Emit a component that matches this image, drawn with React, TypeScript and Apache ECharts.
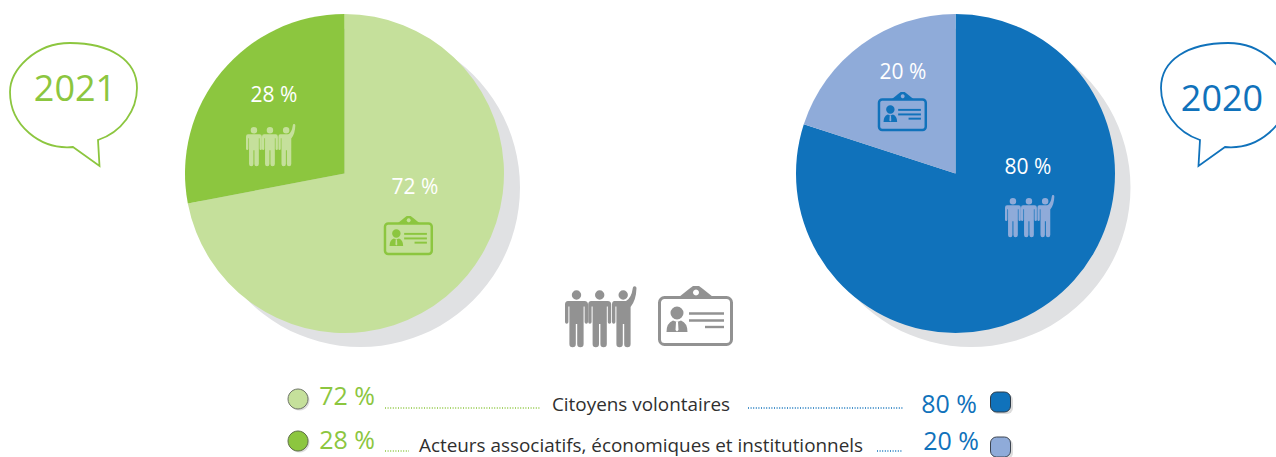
import React, { useEffect, useRef } from "react";
import * as echarts from "echarts";

const sliceNames = ["Citoyens volontaires", "Acteurs associatifs, économiques et institutionnels"];
const values2021 = [72, 28];
const values2020 = [80, 20];
const years = ["2021", "2020"];
const FONT = '"Open Sans", "Noto Sans", sans-serif';

const GREEN = "#8cc63f";
const LIGHT_GREEN = "#c5e09b";
const BLUE = "#1072bb";
const LIGHT_BLUE = "#8fabd9";
const GREY = "#929292";
const SHADOW = "#e0e1e3";
const DARK = "#2f2f2f";

const person = (x: number) =>
  `M${x + 3} 15H${x + 19.5}Q${x + 23} 15 ${x + 23} 18.5V36A1.7 1.7 0 0 1 ${x + 19.6} 36V20.5H${x + 18.6}V58A2.8 2.8 0 0 1 ${x + 12.2} 58V38H${x + 10.8}V58A2.8 2.8 0 0 1 ${x + 4.4} 58V20.5H${x + 3.4}V36A1.7 1.7 0 0 1 ${x + 0} 36V18.5Q${x + 0} 15 ${x + 3} 15Z` +
  `M${x + 16.2} 9A4.7 4.7 0 1 1 ${x + 6.8} 9A4.7 4.7 0 1 1 ${x + 16.2} 9Z`;
const PEOPLE_D =
  person(0) + person(23.2) +
  `M49.5 15H61Q66.5 12 67.8 2A1.8 1.8 0 0 1 71.5 2Q71.2 14 65.6 21V58A2.8 2.8 0 0 1 59.2 58V38H57.8V58A2.8 2.8 0 0 1 51.4 58V20.5H50.4V36A1.7 1.7 0 0 1 47 36V18.5Q47 15 49.5 15Z` +
  `M62.9 9A4.7 4.7 0 1 1 53.5 9A4.7 4.7 0 1 1 62.9 9Z`;
const BUST_D =
  "M25.5 27A6.5 6.5 0 1 1 12.5 27A6.5 6.5 0 1 1 25.5 27ZM8.5 46Q8.5 37 15 34.5L19 36L23 34.5Q29.5 37 29.5 46Z";
const BUBBLE_D =
  "M73 147L99.5 166L98 140C122 132 137 110 137 88C137 60 110 43 70 43C35 43 10 70 10 92C10 125 40 150 73 147Z";

echarts.graphic.registerShape("people", echarts.graphic.extendPath(PEOPLE_D, {}));
echarts.graphic.registerShape("bust", echarts.graphic.extendPath(BUST_D, {}));
echarts.graphic.registerShape("bubble", echarts.graphic.extendPath(BUBBLE_D, {}));

const people = (x: number, y: number, s: number, fill: string) => ({
  type: "people", x, y, scaleX: s, scaleY: s, style: { fill }, silent: true,
});

const card = (x: number, y: number, s: number, color: string, bg: string, frame = 3, rule = 2.4) => ({
  type: "group", x, y, scaleX: s, scaleY: s, silent: true,
  children: [
    { type: "polygon", shape: { points: [[21, 11], [31, 3], [35, 0], [41, 0], [45, 3], [55, 11]] }, style: { fill: color } },
    { type: "circle", z: 11, shape: { cx: 38, cy: 6.5, r: 3 }, style: { fill: bg } },
    { type: "rect", shape: { x: 1.5, y: 11.5, width: 72, height: 47, r: 5 }, style: { fill: "none", stroke: color, lineWidth: frame } },
    { type: "bust", style: { fill: color } },
    { type: "polygon", z: 11, shape: { points: [[18, 36], [20, 36], [20.5, 44], [19, 45.5], [17.5, 44]] }, style: { fill: bg } },
    { type: "line", shape: { x1: 31, y1: 27.5, x2: 66, y2: 27.5 }, style: { stroke: color, lineWidth: rule } },
    { type: "line", shape: { x1: 31, y1: 34.5, x2: 66, y2: 34.5 }, style: { stroke: color, lineWidth: rule } },
    { type: "line", shape: { x1: 47, y1: 41, x2: 66, y2: 41 }, style: { stroke: color, lineWidth: rule } },
  ],
});

const label = (text: string, cx: number, cy: number, size: number, fill: string, align = "center") => ({
  type: "text", x: cx, y: cy, silent: true,
  style: { text, fontFamily: FONT, fontSize: size, fill, textAlign: align, textVerticalAlign: "middle" },
});

const dots = (x1: number, x2: number, y: number, stroke: string) => ({
  type: "line", silent: true, shape: { x1, y1: y, x2, y2: y },
  style: { stroke, lineWidth: 1.4, lineDash: [1, 1.6] },
});

const withZ = (el: any): any => ({
  ...el,
  z: el.z ?? 10,
  ...(el.children ? { children: el.children.map(withZ) } : {}),
});

const pie = (center: [number, number], data: { value: number; color: string }[]) => ({
  type: "pie", center, radius: [0, 159.5], startAngle: 90, clockwise: true, silent: true,
  label: { show: false }, labelLine: { show: false }, emphasis: { disabled: true },
  data: data.map((d) => ({ value: d.value, itemStyle: { color: d.color } })),
});

export default function App() {
  const ref = useRef<HTMLDivElement>(null);
  useEffect(() => {
    const chart = echarts.init(ref.current!, null, { renderer: "svg" });
    chart.setOption({
      animation: false,
      backgroundColor: "#ffffff",
      series: [
        pie([360.5, 187.5], [{ value: 100, color: SHADOW }]),
        pie([971, 187.5], [{ value: 100, color: SHADOW }]),
        pie([344.5, 173.5], [
          { value: values2021[0], color: LIGHT_GREEN },
          { value: values2021[1], color: GREEN },
        ]),
        pie([955.5, 173.5], [
          { value: values2020[0], color: BLUE },
          { value: values2020[1], color: LIGHT_BLUE },
        ]),
      ],
      graphic: {
        elements: [
          { type: "bubble", x: 0, y: 0, style: { fill: "none", stroke: GREEN, lineWidth: 1.8 }, silent: true },
          { type: "bubble", x: 1298, y: 0, scaleX: -1, style: { fill: "none", stroke: BLUE, lineWidth: 1.8 }, silent: true },
          label(years[0], 75, 87, 36, GREEN),
          label(years[1], 1222, 97, 36, BLUE),

          label(`${values2021[1]} %`, 274, 94, 21, "#ffffff"),
          label(`${values2021[0]} %`, 415, 186, 21, "#ffffff"),
          label(`${values2020[1]} %`, 903, 70.5, 21, "#ffffff"),
          label(`${values2020[0]} %`, 1028, 165.5, 21, "#ffffff"),

          people(246, 124, 0.69, LIGHT_GREEN),
          card(384, 216, 0.65, GREEN, LIGHT_GREEN, 3.8, 3),
          people(1005, 195, 0.69, LIGHT_BLUE),
          card(878, 92, 0.65, BLUE, LIGHT_BLUE, 3.8, 3),

          people(565, 286, 1, GREY),
          card(658, 286, 1, GREY, "#ffffff"),

          { type: "circle", silent: true, shape: { cx: 299.5, cy: 400.5, r: 10 }, style: { fill: "#dcdcdc" } },
          { type: "circle", silent: true, z: 11, shape: { cx: 298, cy: 399, r: 10 }, style: { fill: LIGHT_GREEN, stroke: "#6f7568", lineWidth: 1 } },
          { type: "circle", silent: true, shape: { cx: 299.5, cy: 442.5, r: 10 }, style: { fill: "#dcdcdc" } },
          { type: "circle", silent: true, z: 11, shape: { cx: 298, cy: 441, r: 10 }, style: { fill: GREEN, stroke: "#5f6f48", lineWidth: 1 } },

          { type: "rect", silent: true, shape: { x: 992, y: 394, width: 21, height: 20, r: 6 }, style: { fill: "#dcdcdc" } },
          { type: "rect", silent: true, z: 11, shape: { x: 990.5, y: 392, width: 20, height: 20, r: 6 }, style: { fill: BLUE, stroke: "#2b3a48", lineWidth: 1 } },
          { type: "rect", silent: true, shape: { x: 992, y: 439, width: 21, height: 20, r: 6 }, style: { fill: "#dcdcdc" } },
          { type: "rect", silent: true, z: 11, shape: { x: 990.5, y: 437, width: 20, height: 20, r: 6 }, style: { fill: LIGHT_BLUE, stroke: "#3c4450", lineWidth: 1 } },

          label(`${values2021[0]} %`, 347, 395, 25, GREEN),
          label(`${values2021[1]} %`, 347, 439, 25, GREEN),
          label(`${values2020[0]} %`, 949, 403, 25, BLUE),
          label(`${values2020[1]} %`, 951, 440, 25, BLUE),

          dots(385, 540, 408, GREEN),
          dots(748, 903, 408, BLUE),
          dots(385, 409, 451, GREEN),
          dots(877, 903, 451, BLUE),

          label(sliceNames[0], 641, 404, 18.9, DARK),
          label(sliceNames[1], 641, 445, 18.9, DARK),
        ].map(withZ),
      },
    });
    return () => chart.dispose();
  }, []);
  return <div ref={ref} style={{ position: "fixed", left: 0, top: 0, width: 1276, height: 457 }} />;
}
